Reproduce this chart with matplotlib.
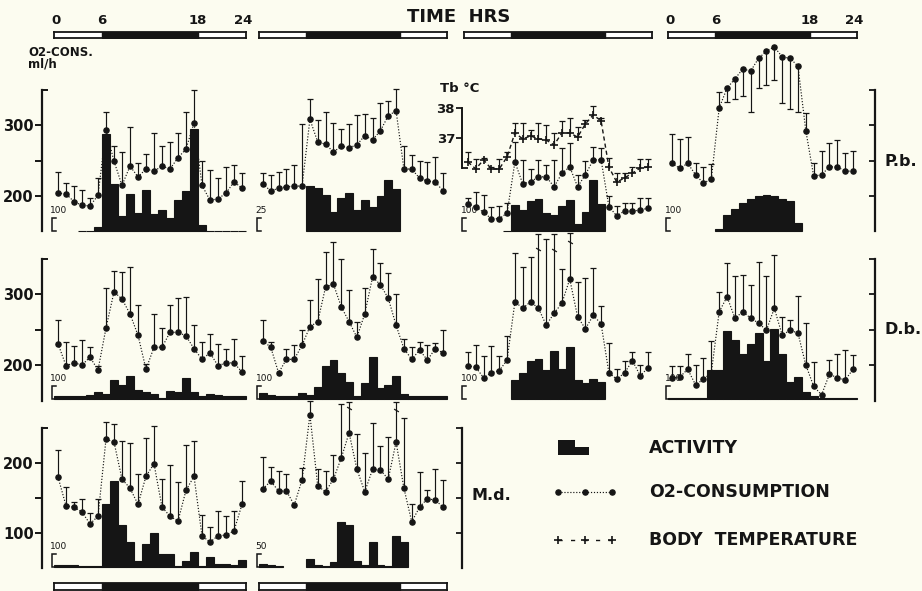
import numpy as np
import matplotlib
matplotlib.use('Agg')
import matplotlib.pyplot as plt

W, H = 922, 591
BG = '#fcfcf0'
INK = '#151515'

hours = np.arange(24) + 0.5          # one value per hour, plotted mid-hour
dark_period = [(6, 12)]              # dark phase 6-18 h (start, length)

# ---- P.b. (row 1) : O2 ml/h, upper SE (negative = bar hangs down), activity counts
pb_a_o2 = [204, 203, 192, 187, 186, 201, 293, 249, 215, 242, 227, 238, 235, 242, 238, 254, 266, 303, 215, 194, 196, 204, 220, 211]
pb_a_se = [30, 15, 22, 22, 11, 24, 26, 21, 47, 55, 20, 21, 54, 28, 38, 35, 52, 46, 34, 42, 30, 37, 24, 21]
pb_a_act = [np.nan, np.nan, np.nan, 0, 0, 30, 745, 360, 115, 285, 140, 315, 130, 160, 100, 240, 310, 785, 45, 0, 0, 0, 0, 0]

pb_b_o2 = [217, 207, 211, 213, 214, 214, 308, 276, 273, 262, 270, 268, 272, 285, 279, 292, 313, 320, 238, 238, 225, 221, 220, 207]
pb_b_se = [15, 23, 23, 25, 30, 87, 28, 31, 45, 41, 25, 34, 42, 30, 31, 39, 21, 31, 32, 20, 24, 27, 35, 25]
pb_b_act = [np.nan] * 6 + [87, 83, 69, 37, 63, 73, 40, 60, 46, 67, 98, 81] + [np.nan] * 6

pb_c_o2 = [189, 185, 177, 168, 168, 176, 248, 217, 220, 227, 227, 213, 232, 241, 213, 230, 251, 251, 185, 172, 179, 179, 180, 183]
pb_c_se = [8, 20, 24, 17, 18, 14, 28, 34, 18, 24, 17, 38, 35, 34, 17, 20, 18, 17, 15, 14, 11, 11, 17, 14]
pb_c_act = [np.nan] * 5 + [0, 200, 160, 230, 245, 140, 125, 190, 240, 55, 145, 390, 205] + [np.nan] * 6
pb_c_tb = [36.20, 35.97, 36.27, 35.97, 35.97, 36.37, 37.17, 36.97, 37.07, 36.97, 36.93, 36.77,
           37.17, 37.17, 37.03, 37.47, 37.77, 37.57, 36.03, 35.53, 35.67, 35.83, 36.00, 36.03]
pb_c_tb_se = [0.33, 0.33, 0.07, 0.07, 0.33, 0.17, 0.33, 0.53, 0.2, 0.53, 0.5, 0.4,
              0.4, 0.5, 0.33, 0.13, 0.3, 0.1, 0.3, 0.3, 0.17, 0.2, 0.3, 0.27]

pb_d_o2 = [246, 239, 246, 230, 218, 224, 324, 352, 365, 379, 376, 394, 404, 410, 396, 394, 383, 292, 228, 230, 241, 241, 235, 235]
pb_d_se = [41, 41, 37, 17, 23, 21, 23, -19, -28, -38, -58, -42, -47, -46, -65, -71, -65, 25, 19, 33, 33, 38, 25, 29]
pb_d_act = [np.nan] * 6 + [15, 125, 170, 215, 245, 270, 275, 270, 245, 230, 60] + [np.nan] * 7

# ---- D.b. (row 2)
db_a_o2 = [230, 199, 203, 200, 211, 193, 252, 303, 293, 272, 242, 194, 225, 225, 246, 246, 241, 223, 208, 217, 199, 203, 203, 190]
db_a_se = [33, 33, 24, 35, 15, 6, 56, 29, 38, 66, 42, 8, 47, 27, 38, 48, 55, 34, 25, 27, 30, 20, 34, 22]
db_a_act = [25, 25, 25, 25, 30, 55, 40, 145, 110, 175, 70, 55, 40, 10, 60, 55, 160, 55, 25, 40, 30, 25, 25, 25]

db_b_o2 = [234, 225, 189, 208, 208, 228, 254, 261, 310, 314, 282, 261, 239, 272, 324, 313, 294, 256, 223, 208, 221, 207, 223, 217]
db_b_se = [29, 8, 0, 14, 20, 22, 38, 60, 49, 59, 68, 45, 21, 36, 40, 31, 36, 44, 13, 18, 12, 21, 8, 33]
db_b_act = [45, 30, 25, 25, 25, 45, 30, 90, 255, 300, 200, 130, 25, 125, 325, 85, 110, 175, 40, 25, 25, 25, 25, 25]

db_c_o2 = [199, 197, 182, 189, 192, 207, 289, 280, 289, 280, 256, 273, 287, 321, 268, 251, 270, 258, 189, 180, 189, 206, 185, 196]
db_c_se = [20, 31, 31, 38, 21, 34, 69, 58, 63, 104, 121, 111, 48, 65, 49, 72, 66, 25, 42, 15, 17, 13, 15, 22]
db_c_act = [np.nan] * 6 + [145, 200, 290, 310, 225, 370, 230, 400, 145, 125, 155, 130] + [np.nan] * 6
db_c_breaks = [9, 11, 13]

db_d_o2 = [182, 183, 194, 172, 180, 189, 275, 296, 266, 275, 266, 259, 249, 280, 242, 249, 245, 200, 170, 158, 187, 182, 179, 194]
db_d_se = [16, 15, 22, 28, 30, 45, 28, 47, 59, 52, 46, 86, 76, 75, 25, 15, 52, 59, 34, 0, 20, 34, 42, 20]
db_d_act = [8, 8, 8, 8, 8, 225, 225, 525, 455, 345, 425, 510, 290, 540, 345, 130, 170, 55, 25, 8, 8, 8, 8, 8]

# ---- M.d. (row 3)
md_a_o2 = [180, 139, 137, 130, 113, 124, 234, 230, 177, 164, 141, 181, 199, 137, 124, 117, 161, 181, 96, 87, 96, 97, 103, 141]
md_a_se = [38, 27, 8, 18, 16, 25, 25, 26, 54, 64, 43, 55, 54, 40, 73, 56, 65, 51, 30, 21, 36, 27, 29, 34]
md_a_act = [15, 15, 15, 5, 5, 5, 485, 660, 325, 190, 45, 175, 260, 100, 100, 10, 45, 115, 10, 75, 25, 25, 15, 55]

md_b_o2 = [163, 174, 160, 160, 140, 176, 269, 167, 159, 177, 207, 243, 191, 159, 191, 190, 177, 230, 164, 116, 137, 149, 147, 137]
md_b_se = [45, 20, 29, 24, 0, 17, 20, 25, 30, 34, 77, 44, 51, 56, 66, 34, 60, 57, 101, 26, 50, 13, 45, 39]
md_b_act = [12, 8, 4, np.nan, np.nan, np.nan, 30, 8, 4, 20, 175, 160, 25, 8, 95, 8, 4, 120, 95] + [np.nan] * 5
md_b_breaks = [11, 17]

act_scale = {(0, 0): 100, (0, 1): 25, (0, 2): 100, (0, 3): 100,
             (1, 0): 100, (1, 1): 100, (1, 2): 100, (1, 3): 100,
             (2, 0): 100, (2, 1): 50}

# ---- layout in pixels
col_px = [(54, 246), (259, 447), (464, 652), (668, 857)]
row_map = [(200, 196, 0.71), (200, 365, 0.71), (100, 533, 0.70)]   # value, pixel y, px per unit
row_base = [231, 399, 567]
row_top = [60, 250, 420]
row_axis = [(150, 350), (150, 350), (50, 250)]
ACT_PX = 13          # pixel height of the activity scale bracket
MS = 3.7             # O2 marker size


def px_rect(x0, x1, ytop, ybot):
    return [x0 / W, 1 - ybot / H, (x1 - x0) / W, (ybot - ytop) / H]


def o2_at(row, y):
    v0, y0, ppu = row_map[row]
    return v0 + (y0 - y) / ppu


def tb_at(y):
    return 37 - (y - 138) / 30.0


def bare(ax):
    ax.set_facecolor('none')
    for s in ax.spines.values():
        s.set_visible(False)
    ax.set_xticks([])
    ax.set_yticks([])
    ax.set_xlim(0, 24)


def ftext(x, y, s, **kw):
    fig.text(x / W, 1 - y / H, s, **kw)


def scale_axis(ax, row, side, offset_px):
    lo, hi = row_axis[row]
    sp = ax.spines[side]
    sp.set_visible(True)
    sp.set_linewidth(1.6)
    sp.set_color(INK)
    sp.set_position(('outward', offset_px * 0.72))
    sp.set_bounds(lo, hi)
    ticks = [lo + 50, lo + 100, lo + 150]
    if side == 'left':
        ax.yaxis.set_ticks_position('left')
        ax.set_yticks(ticks, [str(ticks[0]), '', str(ticks[2])])
        ax.set_yticks([hi], minor=True)
        ax.tick_params(axis='y', which='major', direction='out', length=5, width=1.4,
                       pad=1, labelsize=10.5, colors=INK)
        ax.tick_params(axis='y', which='minor', direction='in', length=4, width=1.4, colors=INK)
    else:
        ax.yaxis.set_ticks_position('right')
        ax.set_yticks(ticks + [hi], [])
        ax.tick_params(axis='y', which='major', direction='in', length=4, width=1.3, colors=INK)
    for lab in ax.get_yticklabels():
        lab.set_fontweight('bold')


def panel(row, col, o2, se, act, breaks=()):
    x0, x1 = col_px[col]
    rect = px_rect(x0, x1, row_top[row], row_base[row])
    scale = act_scale[(row, col)]

    # activity histogram
    aa = fig.add_axes(rect)
    bare(aa)
    aa.set_ylim(0, scale * (row_base[row] - row_top[row]) / ACT_PX)
    act = np.array(act, float)
    ok = ~np.isnan(act)
    aa.bar(hours[ok], act[ok], width=1.0, color=INK, edgecolor=INK, lw=0.8, clip_on=False)
    bx = -0.25
    aa.plot([bx + 0.55, bx, bx, bx + 0.55], [scale, scale, 0, 0], color=INK, lw=1.1,
            clip_on=False, solid_joinstyle='miter')
    aa.text(bx - 0.2, scale * 1.25, str(scale), fontsize=6.5, fontweight='normal',
            color=INK, ha='left', va='bottom')

    # oxygen consumption
    ax = fig.add_axes(rect)
    bare(ax)
    ax.set_ylim(o2_at(row, row_base[row]), o2_at(row, row_top[row]))
    o2 = np.array(o2, float)
    se = np.array(se, float)
    tip = o2 + se
    ax.vlines(hours, o2, tip, color=INK, lw=0.85, clip_on=False)
    has = se != 0
    ax.plot(hours[has], tip[has], ls='none', marker='_', ms=4.5, mew=0.9, color=INK, clip_on=False)
    if len(breaks):
        b = np.array(breaks)
        ax.plot(hours[b], tip[b] - 0.2 * se[b], ls='none', marker=(2, 0, 60), ms=4,
                mew=0.9, color=INK, clip_on=False)
    ax.plot(hours, o2, ls=(0, (1, 1.5)), lw=0.85, color=INK, marker='o', ms=MS,
            mfc=INK, mec=INK, clip_on=False)
    return ax


def time_bar(col, ytop, ybot):
    x0, x1 = col_px[col]
    tb = fig.add_axes(px_rect(x0, x1, ytop, ybot))
    tb.set_xlim(0, 24)
    tb.set_ylim(0, 1)
    tb.set_xticks([])
    tb.set_yticks([])
    tb.set_facecolor('white')
    for s in tb.spines.values():
        s.set_linewidth(1.3)
        s.set_color(INK)
    tb.broken_barh(dark_period, (0, 1), facecolor=INK, edgecolor=INK)
    return tb


fig = plt.figure(figsize=(W / 100, H / 100), dpi=100, facecolor=BG)
plt.rcParams['font.family'] = ['DejaVu Sans']

# top row: P.b.
a = panel(0, 0, pb_a_o2, pb_a_se, pb_a_act)
scale_axis(a, 0, 'left', 12)
panel(0, 1, pb_b_o2, pb_b_se, pb_b_act)
panel(0, 2, pb_c_o2, pb_c_se, pb_c_act)
a = panel(0, 3, pb_d_o2, pb_d_se, pb_d_act)
scale_axis(a, 0, 'right', 18)

# body temperature on P.b. third panel
at = fig.add_axes(px_rect(col_px[2][0], col_px[2][1], row_top[0], row_base[0]))
bare(at)
at.set_ylim(tb_at(row_base[0]), tb_at(row_top[0]))
tb_v = np.array(pb_c_tb)
tb_tip = tb_v + np.array(pb_c_tb_se)
at.vlines(hours, tb_v, tb_tip, color=INK, lw=0.85, clip_on=False)
at.plot(hours, tb_tip, ls='none', marker='_', ms=4, mew=0.9, color=INK, clip_on=False)
at.plot(hours, tb_v, ls=(0, (3, 2.2)), lw=1.0, color=INK, marker='+', ms=5.5, mew=1.2,
        clip_on=False)
sp = at.spines['left']
sp.set_visible(True)
sp.set_linewidth(1.4)
sp.set_color(INK)
sp.set_position(('outward', 1.5))
sp.set_bounds(36.0, 38.0)
at.yaxis.set_ticks_position('left')
at.set_yticks([37, 38], ['37', '38'])
at.set_yticks([36.0, 38.0], minor=True)
at.tick_params(axis='y', which='major', direction='out', length=4, width=1.3, pad=1,
               labelsize=9.5, colors=INK)
at.tick_params(axis='y', which='minor', direction='in', length=4, width=1.3, colors=INK)
for lab in at.get_yticklabels():
    lab.set_fontweight('bold')

# middle row: D.b.
a = panel(1, 0, db_a_o2, db_a_se, db_a_act)
scale_axis(a, 1, 'left', 12)
panel(1, 1, db_b_o2, db_b_se, db_b_act)
panel(1, 2, db_c_o2, db_c_se, db_c_act, db_c_breaks)
a = panel(1, 3, db_d_o2, db_d_se, db_d_act)
scale_axis(a, 1, 'right', 18)

# bottom row: M.d.
a = panel(2, 0, md_a_o2, md_a_se, md_a_act)
scale_axis(a, 2, 'left', 12)
a = panel(2, 1, md_b_o2, md_b_se, md_b_act, md_b_breaks)
scale_axis(a, 2, 'right', 15)

# light / dark bars
for c in range(4):
    time_bar(c, 32, 38)
for c in range(2):
    time_bar(c, 583, 590)

bold = dict(fontweight='bold', color=INK)
for c in (0, 3):
    x0, x1 = col_px[c]
    k = (x1 - x0) / 24.0
    ftext(x0 + 0.3 * k, 21, '0', fontsize=9.5, ha='center', va='center', **bold)
    ftext(x0 + 6 * k, 20, '6', fontsize=9.5, ha='center', va='center', **bold)
    ftext(x0 + 18 * k, 20, '18', fontsize=9.5, ha='center', va='center', **bold)
    ftext(x0 + 23.6 * k, 20, '24', fontsize=9.5, ha='center', va='center', **bold)
ftext(459, 17, 'TIME  HRS', fontsize=13, ha='center', va='center', **bold)
ftext(28, 52, 'O2-CONS.', fontsize=8.5, ha='left', va='center', **bold)
ftext(28, 64, 'ml/h', fontsize=8.5, ha='left', va='center', **bold)
ftext(440, 88, 'Tb °C', fontsize=9.5, ha='left', va='center', **bold)

ftext(884, 161, 'P.b.', fontsize=11.5, ha='left', va='center', **bold)
ftext(884, 330, 'D.b.', fontsize=11.5, ha='left', va='center', **bold)
ftext(471, 495, 'M.d.', fontsize=11.5, ha='left', va='center', **bold)

# legend
lg = fig.add_axes(px_rect(540, 910, 425, 560))
lg.set_xlim(540, 910)
lg.set_ylim(560, 425)
lg.axis('off')
lg.bar([558, 575], [-15, -8], width=[17, 14], bottom=455, align='edge', color=INK)
lg.plot([558, 585, 612], [492, 492, 492], ls=(0, (1, 1.5)), lw=0.85, color=INK,
        marker='o', ms=MS)
lg.plot([558, 585, 612], [540, 540, 540], ls=(0, (3, 6)), lw=1.0, color=INK,
        marker='+', ms=5.5, mew=1.2)
lg.text(649, 448, 'ACTIVITY', fontsize=12.5, ha='left', va='center', **bold)
lg.text(649, 492, 'O2-CONSUMPTION', fontsize=12.5, ha='left', va='center', **bold)
lg.text(649, 540, 'BODY  TEMPERATURE', fontsize=12.5, ha='left', va='center', **bold)

fig.savefig('out.png', dpi=100, facecolor=BG)
